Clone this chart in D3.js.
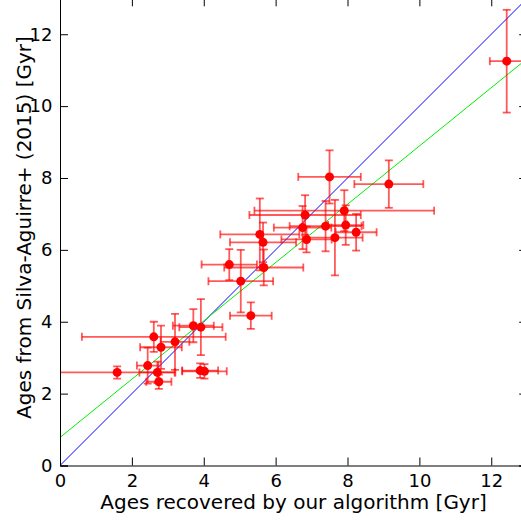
<!DOCTYPE html>
<html><head><meta charset="utf-8">
<script src="https://cdn.jsdelivr.net/npm/d3@7"></script>
<style>html,body{margin:0;padding:0;background:#fff;}svg{display:block;}</style>
</head><body>
<svg id="c" width="521" height="521"></svg>
<script>
// Data
const ourAges   = [1.59,2.44,2.71,2.75,2.61,2.81,3.20,3.71,3.92,3.90,4.02,4.71,5.03,5.31,5.67,5.56,5.65,6.82,6.75,6.86,7.39,7.65,7.91,7.95,8.24,7.50,9.15,12.43];
const refAges   = [2.59,2.78,2.59,2.33,3.58,3.29,3.44,3.89,3.85,2.64,2.62,5.59,5.13,4.17,5.51,6.43,6.21,6.97,6.62,6.29,6.66,6.34,7.09,6.69,6.49,8.03,7.83,11.25];
const ourErr    = [1.60,0.30,0.50,0.35,2.00,0.58,0.40,0.57,0.60,0.50,0.62,0.77,0.90,0.58,1.10,1.10,0.92,1.55,0.80,0.70,1.00,0.77,2.50,0.49,0.57,0.87,0.96,0.47];
const refErr    = [0.17,0.50,0.30,0.20,0.42,0.60,0.78,0.46,0.78,0.20,0.20,0.43,0.87,0.37,0.50,1.00,0.55,0.55,0.60,0.36,0.70,1.05,0.57,0.55,0.51,0.74,0.66,1.43];
const fitLine   = [0.78, 0.811];   // intercept, slope
const xTicks    = [0,2,4,6,8,10,12];
const yTicks    = [0,2,4,6,8,10,12];
const domainMax = 13;

const svg = d3.select("#c");
const L = 60, R = 527.2, B = 465.5, T = -1.7;
const x = d3.scaleLinear().domain([0, domainMax]).range([L, R]);
const y = d3.scaleLinear().domain([0, domainMax]).range([B, T]);

svg.append("defs").append("clipPath").attr("id","clip")
  .append("rect").attr("x",L).attr("y",T).attr("width",R-L).attr("height",B-T);

const plot = svg.append("g").attr("clip-path","url(#clip)");

plot.append("line")
  .attr("x1", x(0)).attr("y1", y(0)).attr("x2", x(domainMax)).attr("y2", y(domainMax))
  .attr("stroke","#0000ff").attr("stroke-width",1);
plot.append("line")
  .attr("x1", x(0)).attr("y1", y(fitLine[0]))
  .attr("x2", x(domainMax)).attr("y2", y(fitLine[0] + fitLine[1]*domainMax))
  .attr("stroke","#00ee00").attr("stroke-width",1);

const data = ourAges.map((v,i)=>({x:v, y:refAges[i], ex:ourErr[i], ey:refErr[i]}));
const cap = 4;
const eb = plot.append("g").attr("stroke","#ff0000").attr("stroke-opacity",0.65).attr("stroke-width",1.8).attr("fill","none");
data.forEach(d=>{
  const g = eb.append("g");
  g.append("line").attr("x1",x(d.x-d.ex)).attr("x2",x(d.x+d.ex)).attr("y1",y(d.y)).attr("y2",y(d.y));
  g.append("line").attr("x1",x(d.x)).attr("x2",x(d.x)).attr("y1",y(d.y-d.ey)).attr("y2",y(d.y+d.ey));
  [d.x-d.ex, d.x+d.ex].forEach(v=>g.append("line").attr("x1",x(v)).attr("x2",x(v)).attr("y1",y(d.y)-cap).attr("y2",y(d.y)+cap));
  [d.y-d.ey, d.y+d.ey].forEach(v=>g.append("line").attr("y1",y(v)).attr("y2",y(v)).attr("x1",x(d.x)-cap).attr("x2",x(d.x)+cap));
});
plot.append("g").selectAll("circle").data(data).join("circle")
  .attr("cx",d=>x(d.x)).attr("cy",d=>y(d.y)).attr("r",4.5).attr("fill","#ff0000");

const font = "DejaVu Sans, sans-serif";
const tl = 8;
const axB = svg.append("g").attr("transform",`translate(0,${B})`)
  .call(d3.axisBottom(x).tickValues(xTicks).tickSize(-tl).tickPadding(9).tickFormat(d3.format("d")));
const axL = svg.append("g").attr("transform",`translate(${L},0)`)
  .call(d3.axisLeft(y).tickValues(yTicks).tickSize(-tl).tickPadding(7.5).tickFormat(d3.format("d")));
const axT = svg.append("g").attr("transform",`translate(0,${T})`)
  .call(d3.axisTop(x).tickValues(xTicks).tickSize(-tl).tickFormat(""));
const axR = svg.append("g").attr("transform",`translate(${R},0)`)
  .call(d3.axisRight(y).tickValues(yTicks).tickSize(-tl).tickFormat(""));
[axB,axL,axT,axR].forEach(a=>{
  a.select(".domain").attr("stroke","#000").attr("stroke-width",1);
  a.selectAll(".tick line").attr("stroke","#000").attr("stroke-width",1);
  a.selectAll("text").attr("font-family",font).attr("font-size",18).attr("fill","#000");
});

svg.append("text").attr("x", 293.5).attr("y", 509)
  .attr("text-anchor","middle").attr("font-family",font).attr("font-size",20).attr("fill","#000")
  .text("Ages recovered by our algorithm [Gyr]");
svg.append("text").attr("transform","translate(31,227.5) rotate(-90)")
  .attr("text-anchor","middle").attr("font-family",font).attr("font-size",20).attr("fill","#000")
  .text("Ages from Silva-Aguirre+ (2015) [Gyr]");
</script>
</body></html>
